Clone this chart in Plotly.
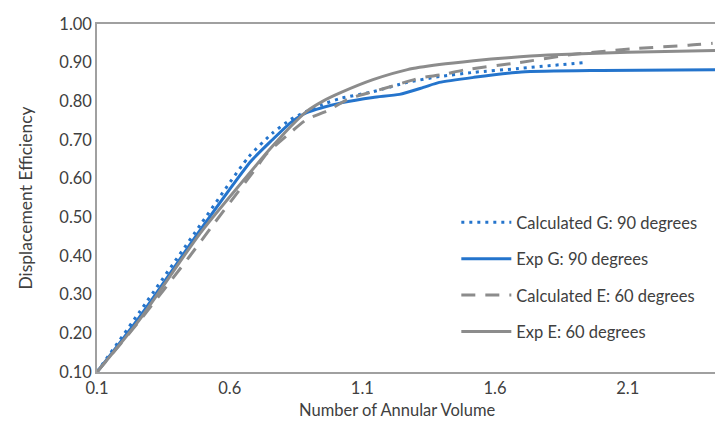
import plotly.graph_objects as go

# Data
calc_g_x = [0.1, 0.26, 0.49, 0.67, 0.76, 0.83, 0.89, 0.95, 1.02, 1.14, 1.27, 1.39, 1.52, 1.69, 1.93]
calc_g_y = [0.10, 0.255, 0.481, 0.655, 0.717, 0.753, 0.774, 0.792, 0.808, 0.825, 0.849, 0.864, 0.875, 0.885, 0.90]

exp_g_x = [0.1, 0.26, 0.49, 0.68, 0.76, 0.83, 0.89, 0.95, 1.02, 1.14, 1.24, 1.33, 1.39, 1.52, 1.7, 2.0, 2.46]
exp_g_y = [0.10, 0.242, 0.468, 0.645, 0.70, 0.745, 0.771, 0.784, 0.796, 0.81, 0.818, 0.836, 0.849, 0.862, 0.876, 0.880, 0.882]

calc_e_x = [0.1, 0.26, 0.45, 0.54, 0.70, 0.74, 0.82, 0.89, 0.97, 1.05, 1.14, 1.23, 1.32, 1.40, 1.49, 1.69, 1.89, 2.14, 2.33, 2.42]
calc_e_y = [0.10, 0.232, 0.40, 0.483, 0.628, 0.665, 0.714, 0.753, 0.776, 0.807, 0.825, 0.843, 0.861, 0.869, 0.882, 0.90, 0.921, 0.937, 0.945, 0.95]

exp_e_x = [0.1, 0.26, 0.49, 0.70, 0.76, 0.83, 0.89, 0.95, 1.02, 1.14, 1.27, 1.39, 1.52, 1.65, 1.8, 2.1, 2.46]
exp_e_y = [0.10, 0.235, 0.46, 0.635, 0.683, 0.735, 0.774, 0.80, 0.823, 0.856, 0.882, 0.895, 0.905, 0.913, 0.92, 0.927, 0.932]

names = ["Calculated G: 90 degrees", "Exp G: 90 degrees", "Calculated E: 60 degrees", "Exp E: 60 degrees"]

BLUE = "#2474CC"
GRAY = "#8C8C8C"
TEXT = "#404040"
FONT = "Lato"
FS = 16.5

fig = go.Figure()
series = [
    (calc_g_x, calc_g_y, names[0], BLUE, "3px,5px"),
    (exp_g_x, exp_g_y, names[1], BLUE, "solid"),
    (calc_e_x, calc_e_y, names[2], GRAY, "14px,10px"),
    (exp_e_x, exp_e_y, names[3], GRAY, "solid"),
]
for i, (x, y, n, c, d) in enumerate(series):
    fig.add_trace(go.Scatter(
        x=x, y=y, name=n, mode="lines",
        line=dict(color=c, width=3, dash=d, shape="spline", smoothing=0.6),
        legendgroup=f"g{i}",
    ))

# page body has an 8px margin: compensate so the plot area sits where it should
fig.update_layout(
    width=715, height=420,
    margin=dict(l=89, r=0, t=16, b=56),
    paper_bgcolor="white", plot_bgcolor="white",
    font=dict(family=FONT, size=FS, color=TEXT),
    showlegend=True,
    legend=dict(
        x=0.574, y=0.48, xanchor="left", yanchor="top",
        bgcolor="rgba(0,0,0,0)", tracegroupgap=12, itemwidth=50,
        font=dict(family=FONT, size=FS, color=TEXT),
    ),
    xaxis=dict(
        range=[0.1, 2.459], tick0=0.1, dtick=0.5, tickformat=".1f",
        showgrid=False, zeroline=False, showline=True, linecolor="#A0A0A0",
        linewidth=1.5, mirror=True, ticks="",
        tickfont=dict(size=FS, color=TEXT),
    ),
    yaxis=dict(
        range=[0.1, 1.0], tick0=0.1, dtick=0.1, tickformat=".2f",
        showgrid=False, zeroline=False, showline=True, linecolor="#A0A0A0",
        linewidth=1.5, ticks="",
        tickfont=dict(size=FS, color=TEXT),
        title=dict(text="Displacement Efficiency", font=dict(size=17.5, color=TEXT), standoff=22),
    ),
    annotations=[dict(
        text="Number of Annular Volume", xref="paper", yref="paper",
        x=0.479, y=-0.11, xanchor="center", yanchor="middle", showarrow=False,
        font=dict(family=FONT, size=FS, color=TEXT),
    )],
)

fig.write_html("out.html")
